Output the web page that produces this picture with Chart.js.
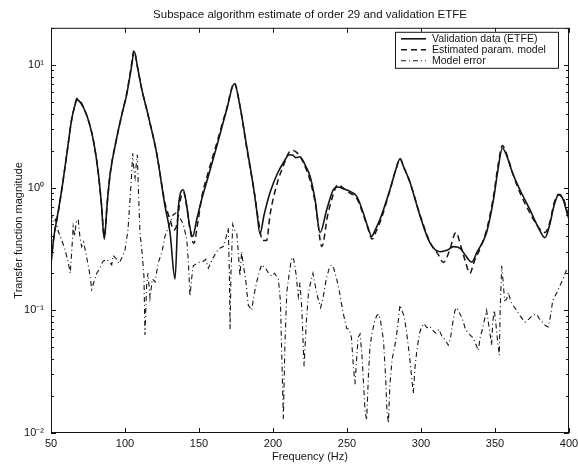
<!DOCTYPE html>
<html>
<head>
<meta charset="utf-8">
<script src="https://cdn.jsdelivr.net/npm/chart.js@4.4.1/dist/chart.umd.min.js"></script>
<style>
  html, body { margin: 0; padding: 0; background: #fff; }
</style>
</head>
<body>
<canvas id="myChart" width="578" height="464"></canvas>
<script>
// frequency axis (Hz) and decade ticks of the magnitude axis
var xTicks = [50, 100, 150, 200, 250, 300, 350, 400];
var yTicks = [0.01, 0.1, 1, 10];
var yTickLabels = ['10\u207B\u00B2', '10\u207B\u00B9', '10\u2070', '10\u00B9'];

// validation data (ETFE)
var valFreq = [50, 52, 55, 58, 61, 64, 66, 67.5, 70, 73,
  76, 79, 82, 84, 86, 88, 90, 94, 98, 101,
  104, 106.3, 108.5, 111, 115.8, 121.4, 127, 130.4, 133.8, 136,
  139.4, 141.7, 143.5, 145.7, 148.5, 151.8, 156, 162, 168.7, 173.9,
  177.7, 182.2, 184.5, 186.7, 189, 191.2, 194, 198, 203, 207,
  211, 213.5, 215.5, 218.2, 222, 225, 228.4, 231.8, 236.3, 240.8,
  244.1, 248, 252, 256.5, 261, 264, 266.7, 269, 272.3, 279,
  283, 285.8, 288.5, 292.6, 299.3, 306, 312.8, 318, 321.8, 326.4,
  330, 334.2, 338, 344.3, 349, 352, 355, 358, 362, 367,
  373.6, 379, 383.8, 387, 390, 393, 396, 399, 400];
var valMag = [0.24, 0.4, 0.65, 1.1, 2.0, 3.6, 4.6, 5.2, 4.9, 4.2,
  3.3, 2.3, 1.3, 0.75, 0.38, 0.75, 1.3, 2.4, 4.0, 5.6,
  9, 12.8, 9.5, 6.6, 3.8, 1.9, 0.71, 0.43, 0.18, 0.68,
  0.96, 0.71, 0.5, 0.4, 0.55, 0.8, 1.2, 2.17, 4.3, 7.0,
  4.6, 2.17, 1.49, 1.02, 0.65, 0.42, 0.6, 0.91, 1.3, 1.59,
  1.85, 1.83, 1.75, 1.78, 1.5, 1.24, 0.8, 0.43, 0.66, 0.96,
  1.01, 0.97, 0.93, 0.85, 0.62, 0.48, 0.40, 0.45, 0.55, 0.96,
  1.4, 1.71, 1.45, 1.1, 0.59, 0.355, 0.30, 0.31, 0.33, 0.32,
  0.28, 0.247, 0.3, 0.43, 0.8, 1.4, 2.1, 1.8, 1.3, 0.95,
  0.66, 0.48, 0.39, 0.5, 0.72, 0.87, 0.8, 0.6, 0.55];

// estimated parametric model (order 29)
var estFreq = [50, 52, 55, 58, 61, 64, 66, 67.5, 70, 73,
  76, 79, 82, 84, 86, 88, 90, 94, 98, 101,
  104, 106, 108.5, 111, 115.8, 121.4, 127, 130.4, 133, 135,
  137, 139.4, 141.7, 144, 146.5, 149, 152, 156, 162, 168.7,
  173.9, 177.7, 182.2, 185, 187.5, 190, 193, 195.7, 198, 203,
  207, 211, 213.5, 215.5, 218.2, 222, 225, 229, 233, 237,
  241, 243.5, 248, 252, 256.5, 261, 264, 267, 270, 273,
  279, 283, 285.8, 288.5, 292.6, 299.3, 306, 312, 315, 319,
  323.6, 327, 330, 333, 336, 340, 344.3, 349, 352, 355,
  358, 362, 367, 373.6, 379, 383.8, 387, 390, 393, 396,
  399, 400];
var estMag = [0.25, 0.4, 0.64, 1.1, 2.0, 3.6, 4.6, 5.3, 5.0, 4.2,
  3.3, 2.3, 1.3, 0.75, 0.4, 0.75, 1.3, 2.4, 4.0, 5.7,
  9.3, 13.0, 9.5, 6.6, 3.8, 1.9, 0.75, 0.55, 0.45, 0.5,
  0.75, 0.92, 0.7, 0.45, 0.35, 0.5, 0.85, 1.3, 2.3, 4.4,
  7.1, 4.6, 2.1, 1.35, 0.9, 0.55, 0.37, 0.37, 0.6, 1.1,
  1.5, 1.95, 2.0, 1.95, 1.8, 1.45, 1.15, 0.7, 0.33, 0.6,
  0.9, 1.05, 0.98, 0.9, 0.82, 0.6, 0.47, 0.38, 0.45, 0.55,
  0.95, 1.4, 1.72, 1.45, 1.1, 0.6, 0.36, 0.28, 0.245, 0.3,
  0.43, 0.33, 0.25, 0.2, 0.25, 0.32, 0.45, 0.85, 1.5, 2.2,
  1.85, 1.3, 0.9, 0.62, 0.48, 0.43, 0.52, 0.75, 0.88, 0.82,
  0.62, 0.55];

// model error
var errFreq = [50, 51.6, 53, 54.9, 57, 59.5, 61.5, 63, 64, 65,
  66, 67, 68.4, 69.5, 70.7, 72, 74.1, 75.5, 76.4, 77.5,
  79, 80.9, 83, 85, 87.6, 89, 91, 92, 94.4, 96,
  98, 100, 102, 103.4, 104.5, 105.2, 106, 106.8, 107.5, 108.3,
  109, 110.1, 111.5, 112.8, 113.5, 114.6, 115.5, 116.9, 118.5, 120.3,
  122.5, 125, 127, 130, 132.6, 134.5, 136, 139.4, 141.7, 142.8,
  143.9, 145, 146.1, 149.5, 152.9, 154.5, 156.3, 159, 161.9, 164,
  166.4, 168, 169.8, 170.5, 171, 171.6, 172.8, 174, 175.5, 176.5,
  177.7, 178.8, 180, 181.5, 183.3, 185.6, 187, 189, 190.5, 192.3,
  195, 197, 199.1, 201, 203.6, 205, 206, 207, 208, 209.3,
  211, 212.6, 214, 215.5, 217.1, 218.2, 219.5, 221, 222.5, 224,
  225, 227, 228.5, 230, 232.2, 234, 236, 238, 239.6, 241,
  243, 245, 247, 249.8, 251.5, 253, 254.3, 255.4, 256.5, 257.5,
  258.8, 260, 261.2, 262.2, 263.3, 264.5, 265.5, 266.7, 268.5, 270,
  271.2, 272.5, 273.5, 274.6, 276, 277, 278, 279, 280.5, 282.4,
  284, 285.8, 287, 288.5, 290, 292, 293.5, 294.8, 296, 297.5,
  299, 300.4, 302, 304, 306, 308.3, 310, 312, 314, 316,
  318.4, 320, 321.5, 323, 324.1, 326, 328, 330, 333.1, 335,
  336.5, 338.7, 340, 341.5, 343, 344.3, 345.5, 347, 347.7, 348.5,
  349.5, 350.5, 351.5, 352.9, 353.5, 354.5, 355.5, 356.5, 357.9, 359,
  360.5, 362, 364.6, 367, 370.3, 373, 375, 378.2, 380, 382,
  384, 386, 387.5, 389, 390.5, 392, 394, 396, 398.4, 400];
var errMag = [0.62, 0.52, 0.55, 0.44, 0.38, 0.31, 0.25, 0.2, 0.3, 0.48,
  0.4, 0.52, 0.55, 0.4, 0.33, 0.36, 0.27, 0.22, 0.19, 0.148,
  0.17, 0.2, 0.22, 0.25, 0.26, 0.25, 0.235, 0.28, 0.26, 0.24,
  0.27, 0.31, 0.45, 0.8, 1.3, 1.9, 1.4, 1.2, 1.5, 1.85,
  1.0, 0.43, 0.3, 0.19, 0.063, 0.16, 0.2, 0.126, 0.18, 0.17,
  0.245, 0.3, 0.4, 0.5, 0.6, 0.62, 0.6, 0.5, 0.38, 0.25,
  0.13, 0.18, 0.23, 0.245, 0.25, 0.26, 0.22, 0.26, 0.3, 0.32,
  0.33, 0.38, 0.47, 0.2, 0.07, 0.2, 0.5, 0.45, 0.43, 0.3,
  0.19, 0.3, 0.23, 0.18, 0.11, 0.1, 0.13, 0.17, 0.2, 0.235,
  0.22, 0.2, 0.19, 0.2, 0.18, 0.12, 0.04, 0.013, 0.05, 0.14,
  0.2, 0.27, 0.26, 0.2, 0.13, 0.168, 0.1, 0.035, 0.08, 0.14,
  0.16, 0.2, 0.16, 0.13, 0.105, 0.13, 0.18, 0.22, 0.234, 0.22,
  0.18, 0.14, 0.1, 0.071, 0.07, 0.06, 0.035, 0.025, 0.04, 0.06,
  0.064, 0.045, 0.025, 0.015, 0.0128, 0.03, 0.05, 0.063, 0.08, 0.09,
  0.093, 0.085, 0.07, 0.058, 0.03, 0.015, 0.012, 0.025, 0.04, 0.052,
  0.07, 0.11, 0.1, 0.09, 0.07, 0.045, 0.03, 0.021, 0.035, 0.05,
  0.065, 0.073, 0.078, 0.072, 0.074, 0.068, 0.065, 0.07, 0.062, 0.058,
  0.052, 0.06, 0.08, 0.1, 0.105, 0.095, 0.085, 0.07, 0.063, 0.06,
  0.055, 0.047, 0.06, 0.07, 0.085, 0.1, 0.08, 0.06, 0.052, 0.08,
  0.1, 0.08, 0.06, 0.043, 0.1, 0.23, 0.17, 0.12, 0.123, 0.14,
  0.12, 0.11, 0.1, 0.09, 0.08, 0.085, 0.09, 0.093, 0.085, 0.08,
  0.075, 0.073, 0.09, 0.12, 0.13, 0.14, 0.16, 0.18, 0.215, 0.22];

var INK = '#141414';
var FONT = '"Liberation Sans", Arial, Helvetica, sans-serif';

function pairs(xs, ys) {
  return xs.map(function (x, i) { return { x: x, y: ys[i] }; });
}

// MATLAB style box with inward ticks on all four sides
var boxTicks = {
  id: 'boxTicks',
  afterDatasetsDraw: function (chart) {
    var ctx = chart.ctx, a = chart.chartArea;
    var xs = chart.scales.x, ys = chart.scales.y;
    ctx.save();
    ctx.strokeStyle = INK;
    ctx.lineWidth = 1;
    ctx.strokeRect(a.left + 0.5, a.top + 0.5, a.right - a.left - 1, a.bottom - a.top - 1);
    ctx.beginPath();
    xTicks.forEach(function (v) {
      var px = Math.round(xs.getPixelForValue(v)) + 0.5;
      ctx.moveTo(px, a.bottom); ctx.lineTo(px, a.bottom - 5);
      ctx.moveTo(px, a.top); ctx.lineTo(px, a.top + 5);
    });
    for (var e = -2; e <= 1; e++) {
      for (var k = 1; k <= 9; k++) {
        var v = k * Math.pow(10, e);
        if (v > ys.max) break;
        var py = Math.round(ys.getPixelForValue(v)) + 0.5;
        var len = k === 1 ? 5 : 3;
        ctx.moveTo(a.left, py); ctx.lineTo(a.left + len, py);
        ctx.moveTo(a.right, py); ctx.lineTo(a.right - len, py);
      }
    }
    ctx.stroke();
    ctx.restore();
  }
};

// framed legend in the upper right corner of the axes
var boxLegend = {
  id: 'boxLegend',
  afterDraw: function (chart) {
    var ctx = chart.ctx, a = chart.chartArea;
    var x0 = a.right - 174, y0 = a.top + 4, w = 163, h = 36;
    ctx.save();
    ctx.fillStyle = '#fff';
    ctx.fillRect(x0, y0, w, h);
    ctx.strokeStyle = INK;
    ctx.lineWidth = 1;
    ctx.strokeRect(x0 + 0.5, y0 + 0.5, w, h);
    ctx.font = '10.5px ' + FONT;
    ctx.textBaseline = 'middle';
    ctx.fillStyle = INK;
    chart.data.datasets.forEach(function (ds, i) {
      var yy = y0 + 7 + i * 11;
      ctx.beginPath();
      ctx.setLineDash(ds.borderDash || []);
      ctx.lineWidth = ds.borderWidth;
      ctx.moveTo(x0 + 6, yy);
      ctx.lineTo(x0 + 31, yy);
      ctx.stroke();
      ctx.setLineDash([]);
      ctx.fillText(ds.label, x0 + 37, yy);
    });
    ctx.restore();
  }
};

var ctx = document.getElementById('myChart').getContext('2d');
new Chart(ctx, {
  type: 'line',
  data: {
    datasets: [
      {
        label: 'Validation data (ETFE)',
        data: pairs(valFreq, valMag),
        borderColor: INK,
        borderWidth: 1.6,
        pointRadius: 0,
        cubicInterpolationMode: 'monotone'
      },
      {
        label: 'Estimated param. model',
        data: pairs(estFreq, estMag),
        borderColor: INK,
        borderWidth: 1.5,
        borderDash: [6, 4],
        pointRadius: 0,
        cubicInterpolationMode: 'monotone'
      },
      {
        label: 'Model error',
        data: pairs(errFreq, errMag),
        borderColor: INK,
        borderWidth: 1.1,
        borderDash: [5, 3, 1, 3],
        pointRadius: 0,
        tension: 0
      }
    ]
  },
  options: {
    responsive: false,
    animation: false,
    layout: { padding: { left: 0, right: 9, top: 0, bottom: 0 } },
    plugins: {
      legend: { display: false },
      tooltip: { enabled: false },
      title: {
        display: true,
        text: 'Subspace algorithm estimate of order 29 and validation ETFE',
        fullSize: false,
        color: INK,
        font: { family: FONT, size: 11.5, weight: 'normal' },
        padding: { top: 8, bottom: 6 }
      }
    },
    scales: {
      x: {
        type: 'linear',
        min: 50,
        max: 400,
        afterFit: function (s) {
          s.height = 31;
          s.paddingLeft = 0;
          s.paddingRight = 0;
        },
        afterBuildTicks: function (s) {
          s.ticks = xTicks.map(function (v) { return { value: v }; });
        },
        grid: { display: false, drawTicks: false },
        border: { display: false },
        ticks: {
          color: INK,
          padding: 4,
          maxRotation: 0,
          font: { family: FONT, size: 11 }
        },
        title: {
          display: true,
          text: 'Frequency (Hz)',
          color: INK,
          font: { family: FONT, size: 11 },
          padding: { top: 0, bottom: 0 }
        }
      },
      y: {
        type: 'logarithmic',
        min: 0.01,
        max: 20,
        afterFit: function (s) {
          s.width = 51;
          s.paddingTop = 0;
          s.paddingBottom = 0;
        },
        afterBuildTicks: function (s) {
          s.ticks = yTicks.map(function (v) { return { value: v }; });
        },
        grid: { display: false, drawTicks: false },
        border: { display: false },
        ticks: {
          color: INK,
          padding: 7,
          font: { family: FONT, size: 11 },
          callback: function (value) {
            var i = yTicks.indexOf(value);
            return i >= 0 ? yTickLabels[i] : '';
          }
        },
        title: {
          display: true,
          text: 'Transfer function magnitude',
          color: INK,
          font: { family: FONT, size: 11 },
          padding: { top: 12, bottom: 0 }
        }
      }
    }
  },
  plugins: [boxTicks, boxLegend]
});
</script>
</body>
</html>
